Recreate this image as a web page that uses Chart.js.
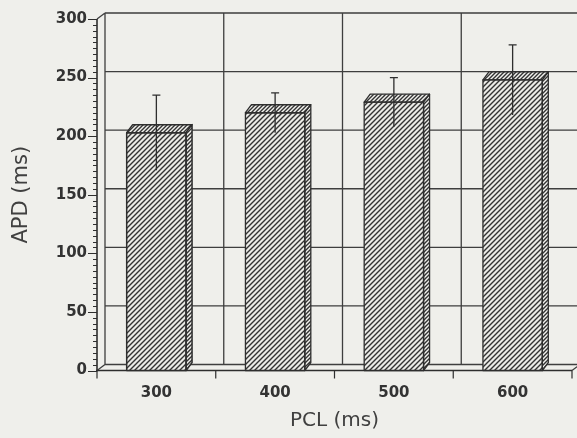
<!DOCTYPE html>
<html>
<head>
<meta charset="utf-8">
<script src="https://cdn.jsdelivr.net/npm/chart.js@4/dist/chart.umd.min.js"></script>
<style>
  html, body { margin: 0; padding: 0; background: #efefeb; }
  #wrap { width: 577px; height: 438px; }
</style>
</head>
<body>
<div id="wrap"><canvas id="c" width="577" height="438"></canvas></div>
<script>
// ---- data ----
const categories = ['300', '400', '500', '600'];      // PCL (ms)
const apdMeans   = [203, 220, 229, 248];               // APD (ms)
const apdErrors  = [32, 17, 21, 30];                   // +/- error
const yMin = 0, yMax = 300, yMajorStep = 50, yMinorStep = 5;
const xTitle = 'PCL (ms)';
const yTitle = 'APD (ms)';

// ---- style ----
const BG = '#efefeb';
const INK = '#2e2e2e';
const GRID = '#3e3e3e';
const WALL = { dx: 8, dy: -6 };
const BAR = { dx: 6, dy: -8 };

function makeHatch(size, lw, bg, fg) {
  const c = document.createElement('canvas');
  c.width = size; c.height = size;
  const g = c.getContext('2d');
  g.fillStyle = bg; g.fillRect(0, 0, size, size);
  g.strokeStyle = fg; g.lineWidth = lw;
  g.beginPath();
  g.moveTo(0, size); g.lineTo(size, 0);
  g.moveTo(-size / 2, size / 2); g.lineTo(size / 2, -size / 2);
  g.moveTo(size / 2, size * 1.5); g.lineTo(size * 1.5, size / 2);
  g.stroke();
  return g.createPattern(c, 'repeat');
}
const hatchFront = makeHatch(5, 1.4, '#ebebe7', '#333333');
const hatchFace = makeHatch(4, 1.4, '#f2f2ee', '#333333');

const threeD = {
  id: 'threeD',
  beforeDraw(chart) {
    const c = chart.ctx;
    c.save();
    c.fillStyle = BG;
    c.fillRect(0, 0, chart.width, chart.height);
    c.restore();
  },
  beforeDatasetsDraw(chart) {
    const c = chart.ctx;
    const xs = chart.scales.x, ys = chart.scales.y;
    const L = xs.left, R = xs.right;
    const y0 = ys.getPixelForValue(yMin), yT = ys.getPixelForValue(yMax);
    const n = categories.length;
    const catW = (R - L) / n;
    c.save();
    // back wall grid
    c.strokeStyle = GRID; c.lineWidth = 1.3;
    c.beginPath();
    for (let v = yMin + yMajorStep; v <= yMax; v += yMajorStep) {
      const y = ys.getPixelForValue(v) + WALL.dy;
      c.moveTo(L + WALL.dx, y); c.lineTo(R + WALL.dx + 10, y);
    }
    for (let i = 0; i <= n; i++) {
      const x = L + i * catW + WALL.dx;
      c.moveTo(x, yT + WALL.dy); c.lineTo(x, y0 + WALL.dy);
    }
    // floor back line
    c.moveTo(L + WALL.dx, y0 + WALL.dy); c.lineTo(R + WALL.dx + 10, y0 + WALL.dy);
    // diagonals
    c.moveTo(L, yT); c.lineTo(L + WALL.dx, yT + WALL.dy);
    c.moveTo(L, y0); c.lineTo(L + WALL.dx, y0 + WALL.dy);
    c.moveTo(R, y0); c.lineTo(R + WALL.dx, y0 + WALL.dy);
    c.stroke();
    // front axes
    c.strokeStyle = INK; c.lineWidth = 1.6;
    c.beginPath();
    c.moveTo(L, yT); c.lineTo(L, y0 + 1);
    c.moveTo(L - 1, y0); c.lineTo(R, y0);
    c.stroke();
    // y ticks (major + minor)
    c.lineWidth = 1.2;
    c.beginPath();
    for (let v = yMin; v <= yMax; v += yMinorStep) {
      const y = Math.round(ys.getPixelForValue(v)) + 0.5;
      const len = (v % yMajorStep === 0) ? 9 : 4;
      c.moveTo(L - len, y); c.lineTo(L, y);
    }
    // x ticks at category boundaries
    for (let i = 0; i <= n; i++) {
      const x = L + i * catW;
      c.moveTo(x, y0); c.lineTo(x, y0 + 8);
    }
    c.stroke();
    c.restore();
  },
  afterDatasetsDraw(chart) {
    const c = chart.ctx;
    const ys = chart.scales.y;
    const meta = chart.getDatasetMeta(0);
    c.save();
    c.strokeStyle = INK; c.lineWidth = 1.5; c.lineJoin = 'round';
    meta.data.forEach((bar, i) => {
      const w = bar.width, l = bar.x - w / 2, r = bar.x + w / 2;
      const t = bar.y, b = bar.base;
      // top face
      c.beginPath();
      c.moveTo(l, t); c.lineTo(l + BAR.dx, t + BAR.dy);
      c.lineTo(r + BAR.dx, t + BAR.dy); c.lineTo(r, t); c.closePath();
      c.fillStyle = hatchFace; c.fill(); c.stroke();
      // side face
      c.beginPath();
      c.moveTo(r, t); c.lineTo(r + BAR.dx, t + BAR.dy);
      c.lineTo(r + BAR.dx, b + BAR.dy); c.lineTo(r, b); c.closePath();
      c.fillStyle = hatchFace; c.fill(); c.stroke();
      // front outline
      c.strokeRect(l, t, w, b - t);
      // error bar
      const yHi = ys.getPixelForValue(apdMeans[i] + apdErrors[i]);
      const yLo = ys.getPixelForValue(apdMeans[i] - apdErrors[i]);
      c.beginPath();
      c.lineWidth = 1.3;
      c.moveTo(bar.x, yLo); c.lineTo(bar.x, yHi);
      c.moveTo(bar.x - 4, yHi); c.lineTo(bar.x + 4, yHi);
      c.stroke();
    });
    c.restore();
  }
};

new Chart(document.getElementById('c'), {
  type: 'bar',
  data: {
    labels: categories,
    datasets: [{
      label: 'APD',
      data: apdMeans,
      backgroundColor: hatchFront,
      borderColor: INK,
      borderWidth: 0,
      barPercentage: 1,
      categoryPercentage: 0.5
    }]
  },
  options: {
    responsive: false,
    animation: false,
    devicePixelRatio: 1,
    layout: { padding: { left: 0, right: 5, top: 17.5, bottom: 0 } },
    plugins: { legend: { display: false }, tooltip: { enabled: false } },
    scales: {
      x: {
        grid: { display: false, drawTicks: false },
        border: { display: false },
        ticks: { color: '#333', padding: 14, font: { family: 'DejaVu Sans', size: 15, weight: 'bold' } },
        title: { display: true, text: xTitle, color: '#404040', padding: { top: 0, bottom: 5 },
                 font: { family: 'DejaVu Sans', size: 20 } },
        afterFit(s) { s.height = 67.5; }
      },
      y: {
        min: yMin, max: yMax,
        grid: { display: false, drawTicks: false },
        border: { display: false },
        ticks: { stepSize: yMajorStep, color: '#333', padding: 10,
                 font: { family: 'DejaVu Sans', size: 15, weight: 'bold' } },
        title: { display: true, text: yTitle, color: '#404040', padding: { top: 9, bottom: 0 },
                 font: { family: 'DejaVu Sans', size: 21 } },
        afterFit(s) { s.width = 97; }
      }
    }
  },
  plugins: [threeD]
});
</script>
</body>
</html>
